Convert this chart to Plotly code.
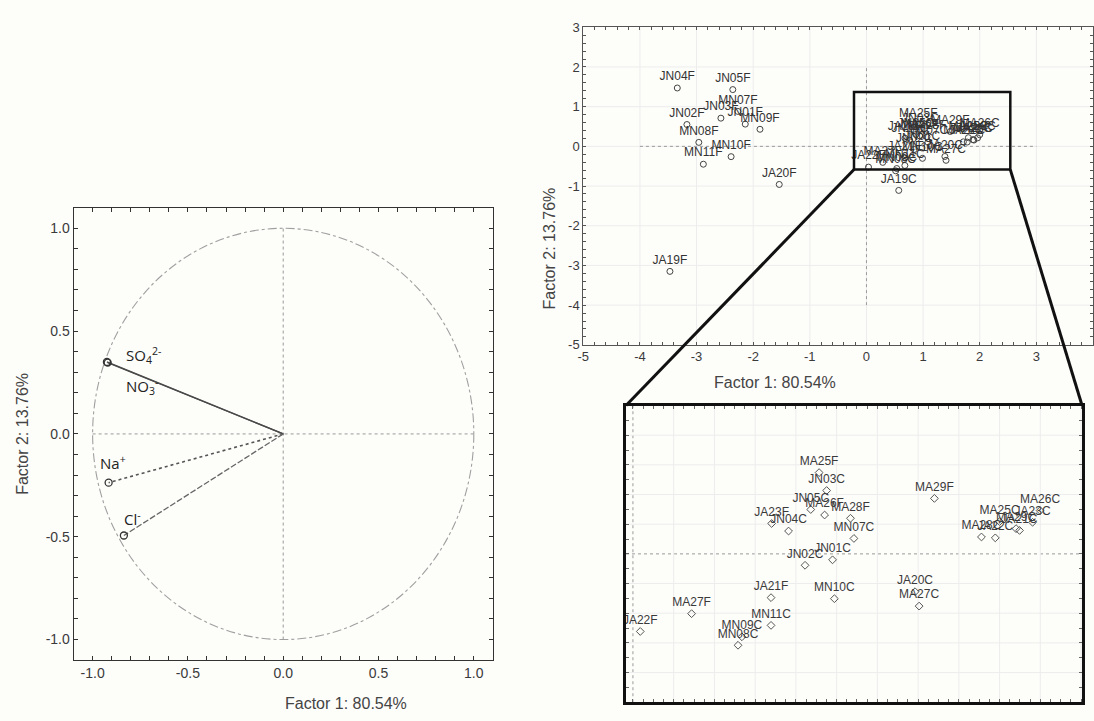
import plotly.graph_objects as go

W, H = 1094, 721

# ---------------------------------------------------------------- data
# Factor loadings of the ions (Factor 1, Factor 2)
ion_names = ["SO<sub>4</sub><sup>2-</sup>", "NO<sub>3</sub><sup>-</sup>",
             "Na<sup>+</sup>", "Cl<sup>-</sup>"]
ion_f1 = [-0.925, -0.921, -0.916, -0.836]
ion_f2 = [0.350, 0.347, -0.237, -0.494]

# Factor scores of the samples
sample_ids = [
    "JN04F", "JN05F", "MN07F", "JN03F", "JN01F", "MN09F", "JN02F", "MN08F",
    "MN10F", "MN11F", "JA20F", "JA19F", "JA19C",
    "MA25F", "JN03C", "MA29F", "JN05C", "MA26F", "MA28F", "JA23F", "JN04C",
    "MN07C", "JN01C", "JN02C", "JA21F", "MN10C", "JA20C", "MA27C", "MA27F",
    "JA22F", "MN11C", "MN09C", "MN08C",
    "MA26C", "JA23C", "MA25C", "JA21C", "MA29C", "MA28C", "JA22C",
]
score_f1 = [
    -3.34, -2.36, -2.27, -2.57, -2.14, -1.88, -3.17, -2.96,
    -2.39, -2.88, -1.54, -3.47, 0.57,
    0.914, 0.951, 1.480, 0.873, 0.941, 1.068, 0.681, 0.764,
    1.085, 0.980, 0.845, 0.678, 0.989, 1.385, 1.405, 0.288,
    0.036, 0.678, 0.535, 0.516,
    1.999, 1.962, 1.800, 1.898, 1.881, 1.711, 1.779,
]
score_f2 = [
    1.47, 1.43, 0.88, 0.71, 0.56, 0.43, 0.55, 0.10,
    -0.26, -0.45, -0.96, -3.15, -1.11,
    0.548, 0.427, 0.374, 0.299, 0.262, 0.240, 0.205, 0.154,
    0.104, -0.040, -0.077, -0.295, -0.302, -0.255, -0.352, -0.403,
    -0.523, -0.482, -0.559, -0.616,
    0.292, 0.213, 0.218, 0.158, 0.170, 0.114, 0.108,
]

load_ticks = [-1.0, -0.5, 0.0, 0.5, 1.0]
load_ticktext = ["-1.0", "-0.5", "0.0", "0.5", "1.0"]
score_xticks = [-5, -4, -3, -2, -1, 0, 1, 2, 3, 4]
score_yticks = [-5, -4, -3, -2, -1, 0, 1, 2, 3]

title_f1 = "Factor 1: 80.54%"
title_f2 = "Factor 2: 13.76%"

# ---------------------------------------------------------------- layout geometry
def px_dom(a, b, total, flip=False):
    if flip:
        return [1 - b / total, 1 - a / total]
    return [a / total, b / total]

dom_x1, dom_y1 = px_dom(68, 490, W), px_dom(205, 667, H, True)
dom_x2, dom_y2 = px_dom(581, 1094, W), px_dom(20.7, 345, H, True)
dom_x3, dom_y3 = px_dom(624, 1083, W), px_dom(407, 710, H, True)

rng_x1 = rng_y1 = [-1.1, 1.1]
rng_x2, rng_y2 = [-5, 4], [-5, 3]
rng_x3, rng_y3 = [-0.034, 2.205], [-1.0, 1.0]

# region of the score plot that is enlarged below it
zoom_box = dict(x0=-0.22, x1=2.54, y0=-0.585, y1=1.37)


def to_paper(v, rng, dom):
    return dom[0] + (v - rng[0]) / (rng[1] - rng[0]) * (dom[1] - dom[0])


def tick_grid(labelled, labels, step, lo, hi):
    """Tick positions every `step`; only the labelled ones carry text."""
    n0, n1 = round(lo / step), round(hi / step)
    vals, texts = [], []
    for k in range(n0, n1 + 1):
        v = round(k * step, 6)
        vals.append(v)
        hit = [t for p, t in zip(labelled, labels) if abs(p - v) < 1e-9]
        texts.append(hit[0] if hit else "")
    return vals, texts


FONT = "Liberation Sans, Arial, sans-serif"
INK = "#3a3a3a"

fig = go.Figure()

# ---------------------------------------------------------------- loadings plot
ion_line_styles = [
    dict(color="#4a4a4a", width=1.3, dash="solid"),
    dict(color="#4a4a4a", width=1.3, dash="solid"),
    dict(color="#555555", width=1.6, dash="dot"),
    dict(color="#666666", width=1.3, dash="6px,2px"),
]
for fx, fy, st in zip(ion_f1, ion_f2, ion_line_styles):
    fig.add_trace(go.Scatter(x=[0, fx], y=[0, fy], mode="lines", line=st,
                             xaxis="x", yaxis="y", hoverinfo="skip"))
fig.add_trace(go.Scatter(x=ion_f1, y=ion_f2, mode="markers", xaxis="x", yaxis="y",
                         marker=dict(symbol="circle-open", size=7,
                                     color="#333", line=dict(width=1.3))))

# label offsets (pixels) relative to each loading point
ion_label_shift = [(17, 6), (16, -24), (-11, 20), (-2, 17)]
annotations = []
for name, fx, fy, (dx, dy) in zip(ion_names, ion_f1, ion_f2, ion_label_shift):
    annotations.append(dict(x=fx, y=fy, xref="x", yref="y", text=name,
                            showarrow=False, xanchor="left", yanchor="middle",
                            xshift=dx, yshift=dy,
                            font=dict(family="Open Sans, sans-serif", size=15,
                                      color="#222")))

# ---------------------------------------------------------------- score plot + enlarged view
fig.add_trace(go.Scatter(
    x=score_f1, y=score_f2, mode="markers+text", text=sample_ids,
    textposition="top center", xaxis="x2", yaxis="y2", cliponaxis=True,
    textfont=dict(family=FONT, size=12, color="#333"),
    marker=dict(symbol="circle-open", size=6, color="#444", line=dict(width=1))))

# only the samples that fall inside the enlarged window
inside = [i for i, (a, b) in enumerate(zip(score_f1, score_f2))
          if rng_x3[0] - 0.05 <= a <= rng_x3[1] and rng_y3[0] <= b <= rng_y3[1]]
fig.add_trace(go.Scatter(
    x=[score_f1[i] for i in inside], y=[score_f2[i] for i in inside],
    text=[sample_ids[i] for i in inside],
    mode="markers+text", textposition="top center", xaxis="x3", yaxis="y3",
    cliponaxis=True, textfont=dict(family=FONT, size=12, color="#3a3a3a"),
    marker=dict(symbol="diamond-open", size=6, color="#555", line=dict(width=1))))

# ---------------------------------------------------------------- shapes
dotted = dict(color="#9a9a9a", width=1, dash="dot")
grid = dict(color="#ededed", width=1)
shapes = []
# light grid of the score plot at the labelled ticks
for v in score_xticks[1:-1]:
    shapes.append(dict(type="line", xref="x2", yref="y2", x0=v, x1=v,
                       y0=rng_y2[0], y1=rng_y2[1], line=grid, layer="below"))
for v in score_yticks[1:-1]:
    shapes.append(dict(type="line", xref="x2", yref="y2", x0=rng_x2[0], x1=rng_x2[1],
                       y0=v, y1=v, line=grid, layer="below"))
shapes += [
    # unit circle of the loadings plot
    dict(type="circle", xref="x", yref="y", x0=-1, x1=1, y0=-1, y1=1,
         line=dict(color="#a0a0a0", width=1.1, dash="dashdot"), layer="below"),
    dict(type="line", xref="x", yref="y", x0=-1, x1=1, y0=0, y1=0, line=dotted, layer="below"),
    dict(type="line", xref="x", yref="y", x0=0, x1=0, y0=-1, y1=1, line=dotted, layer="below"),
    # reference lines of the score plot
    dict(type="line", xref="x2", yref="y2", x0=-4, x1=3, y0=0, y1=0, line=dotted, layer="below"),
    dict(type="line", xref="x2", yref="y2", x0=0, x1=0, y0=-4, y1=2, line=dotted, layer="below"),
    # reference lines of the enlarged view
    dict(type="line", xref="x3", yref="y3", x0=rng_x3[0], x1=rng_x3[1], y0=0, y1=0,
         line=dotted, layer="below"),
    dict(type="line", xref="x3", yref="y3", x0=0, x1=0, y0=rng_y3[0], y1=rng_y3[1],
         line=dotted, layer="below"),
    # enlarged region
    dict(type="rect", xref="x2", yref="y2", line=dict(color="#111", width=2.5),
         layer="above", **zoom_box),
]
bl = (to_paper(zoom_box["x0"], rng_x2, dom_x2), to_paper(zoom_box["y0"], rng_y2, dom_y2))
br = (to_paper(zoom_box["x1"], rng_x2, dom_x2), to_paper(zoom_box["y0"], rng_y2, dom_y2))
for (sx, sy), (ex, ey) in [(bl, (dom_x3[0], dom_y3[1])), (br, (dom_x3[1], dom_y3[1]))]:
    shapes.append(dict(type="line", xref="paper", yref="paper", x0=sx, y0=sy, x1=ex, y1=ey,
                       line=dict(color="#111", width=3), layer="above"))

# ---------------------------------------------------------------- axis titles
title_font = dict(family=FONT, size=16, color="#444")
annotations += [
    dict(text=title_f1, x=sum(dom_x1) / 2, y=1 - 711 / H, xref="paper", yref="paper",
         showarrow=False, font=title_font, yanchor="middle"),
    dict(text=title_f2, x=17 / W, y=sum(dom_y1) / 2, xref="paper", yref="paper",
         showarrow=False, font=title_font, textangle=-90, xanchor="center"),
    dict(text=title_f1, x=sum(dom_x2) / 2, y=1 - 383 / H, xref="paper", yref="paper",
         showarrow=False, font=title_font, yanchor="middle"),
    dict(text=title_f2, x=547 / W, y=sum(dom_y2) / 2, xref="paper", yref="paper",
         showarrow=False, font=title_font, textangle=-90, xanchor="center"),
]


def axis(dom, rng, anchor, **kw):
    base = dict(domain=dom, range=rng, anchor=anchor, ticks="inside", ticklen=4,
                tickcolor="#333", showline=True, linecolor="#333", linewidth=1,
                mirror="ticks", zeroline=False, showgrid=False,
                tickfont=dict(family=FONT, size=14, color=INK))
    base.update(kw)
    return base


lx_vals, lx_text = tick_grid(load_ticks, load_ticktext, 0.1, -1.1, 1.1)
sx_vals, sx_text = tick_grid(score_xticks, [str(v) for v in score_xticks], 0.2, -5, 4)
sy_vals, sy_text = tick_grid(score_yticks, [str(v) for v in score_yticks], 0.2, -5, 3)

score_font = dict(family=FONT, size=13, color=INK)
fig.update_layout(
    width=W, height=H, margin=dict(l=0, r=0, t=0, b=0),
    paper_bgcolor="#fdfdfa", plot_bgcolor="#fdfdfa", showlegend=False,
    xaxis=axis(dom_x1, rng_x1, "y", tickvals=lx_vals, ticktext=lx_text),
    yaxis=axis(dom_y1, rng_y1, "x", tickvals=lx_vals, ticktext=lx_text),
    xaxis2=axis(dom_x2, rng_x2, "y2", tickvals=sx_vals, ticktext=sx_text,
                linecolor="#555", tickcolor="#555", ticklen=3, tickfont=score_font),
    yaxis2=axis(dom_y2, rng_y2, "x2", tickvals=sy_vals, ticktext=sy_text,
                linecolor="#555", tickcolor="#555", ticklen=3, tickfont=score_font),
    xaxis3=axis(dom_x3, rng_x3, "y3", tick0=0, dtick=0.05, showticklabels=False,
                linecolor="#111", linewidth=3, tickcolor="#666", ticklen=3),
    yaxis3=axis(dom_y3, rng_y3, "x3", tick0=0, dtick=0.1, showticklabels=False,
                linecolor="#111", linewidth=3, tickcolor="#666", ticklen=3),
    shapes=shapes,
    annotations=annotations,
)

# light grid of the enlarged view every 0.2 units
for v in [round(k * 0.2, 6) for k in range(1, 12)]:
    if v < rng_x3[1]:
        fig.add_shape(type="line", xref="x3", yref="y3", x0=v, x1=v,
                      y0=rng_y3[0], y1=rng_y3[1], line=grid, layer="below")
for v in [round(k * 0.2, 6) for k in range(-4, 5) if k != 0]:
    fig.add_shape(type="line", xref="x3", yref="y3", x0=rng_x3[0], x1=rng_x3[1],
                  y0=v, y1=v, line=grid, layer="below")

fig.write_html("out.html")
